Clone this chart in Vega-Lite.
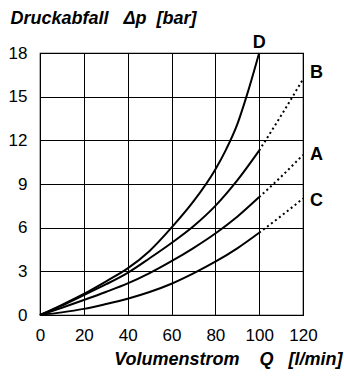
{
  "$schema": "https://vega.github.io/schema/vega-lite/v6.json",
  "autosize": "none",
  "width": 263,
  "height": 262,
  "padding": {"left": 40, "top": 53, "right": 41, "bottom": 61},
  "background": "white",
  "config": {
    "font": "Liberation Sans",
    "view": {"stroke": "black", "strokeWidth": 1.2},
    "axis": {
      "grid": true,
      "gridColor": "black",
      "gridOpacity": 1,
      "gridWidth": 1,
      "domain": false,
      "ticks": false,
      "labelFlush": false,
      "labelOverlap": false,
      "labelFont": "Liberation Sans",
      "labelFontSize": 17,
      "labelColor": "black",
      "titleFont": "Liberation Sans",
      "titleFontSize": 18,
      "titleFontWeight": "bold",
      "titleFontStyle": "italic",
      "titleColor": "black"
    }
  },
  "datasets": {
    "curves": [
      {"series": "D", "seg": "solid", "q": 0, "p": 0},
      {"series": "D", "seg": "solid", "q": 10, "p": 0.7},
      {"series": "D", "seg": "solid", "q": 20, "p": 1.45},
      {"series": "D", "seg": "solid", "q": 30, "p": 2.3},
      {"series": "D", "seg": "solid", "q": 40, "p": 3.2},
      {"series": "D", "seg": "solid", "q": 50, "p": 4.4},
      {"series": "D", "seg": "solid", "q": 60, "p": 6.0},
      {"series": "D", "seg": "solid", "q": 70, "p": 7.8},
      {"series": "D", "seg": "solid", "q": 80, "p": 10.0},
      {"series": "D", "seg": "solid", "q": 85, "p": 11.4},
      {"series": "D", "seg": "solid", "q": 90, "p": 13.1},
      {"series": "D", "seg": "solid", "q": 95, "p": 15.4},
      {"series": "D", "seg": "solid", "q": 100, "p": 18.0},
      {"series": "B", "seg": "solid", "q": 0, "p": 0},
      {"series": "B", "seg": "solid", "q": 10, "p": 0.65},
      {"series": "B", "seg": "solid", "q": 20, "p": 1.37},
      {"series": "B", "seg": "solid", "q": 30, "p": 2.1},
      {"series": "B", "seg": "solid", "q": 40, "p": 2.9},
      {"series": "B", "seg": "solid", "q": 50, "p": 3.9},
      {"series": "B", "seg": "solid", "q": 60, "p": 4.95},
      {"series": "B", "seg": "solid", "q": 70, "p": 6.1},
      {"series": "B", "seg": "solid", "q": 80, "p": 7.5},
      {"series": "B", "seg": "solid", "q": 90, "p": 9.25},
      {"series": "B", "seg": "solid", "q": 100, "p": 11.3},
      {"series": "B", "seg": "dotted", "q": 100, "p": 11.3},
      {"series": "B", "seg": "dotted", "q": 110, "p": 13.7},
      {"series": "B", "seg": "dotted", "q": 120, "p": 16.2},
      {"series": "A", "seg": "solid", "q": 0, "p": 0},
      {"series": "A", "seg": "solid", "q": 10, "p": 0.5},
      {"series": "A", "seg": "solid", "q": 20, "p": 1.03},
      {"series": "A", "seg": "solid", "q": 30, "p": 1.58},
      {"series": "A", "seg": "solid", "q": 40, "p": 2.17},
      {"series": "A", "seg": "solid", "q": 50, "p": 2.88},
      {"series": "A", "seg": "solid", "q": 60, "p": 3.7},
      {"series": "A", "seg": "solid", "q": 70, "p": 4.6},
      {"series": "A", "seg": "solid", "q": 80, "p": 5.6},
      {"series": "A", "seg": "solid", "q": 90, "p": 6.75},
      {"series": "A", "seg": "solid", "q": 100, "p": 8.1},
      {"series": "A", "seg": "dotted", "q": 100, "p": 8.1},
      {"series": "A", "seg": "dotted", "q": 110, "p": 9.5},
      {"series": "A", "seg": "dotted", "q": 120, "p": 11.0},
      {"series": "C", "seg": "solid", "q": 0, "p": 0},
      {"series": "C", "seg": "solid", "q": 10, "p": 0.18},
      {"series": "C", "seg": "solid", "q": 20, "p": 0.42},
      {"series": "C", "seg": "solid", "q": 30, "p": 0.75},
      {"series": "C", "seg": "solid", "q": 40, "p": 1.12},
      {"series": "C", "seg": "solid", "q": 50, "p": 1.58},
      {"series": "C", "seg": "solid", "q": 60, "p": 2.15},
      {"series": "C", "seg": "solid", "q": 70, "p": 2.86},
      {"series": "C", "seg": "solid", "q": 80, "p": 3.66},
      {"series": "C", "seg": "solid", "q": 90, "p": 4.58},
      {"series": "C", "seg": "solid", "q": 100, "p": 5.65},
      {"series": "C", "seg": "dotted", "q": 100, "p": 5.65},
      {"series": "C", "seg": "dotted", "q": 110, "p": 6.8},
      {"series": "C", "seg": "dotted", "q": 120, "p": 8.0}
    ],
    "labels": [
      {"label": "D", "q": 100, "p": 18.0, "pos": "top"},
      {"label": "B", "q": 120, "p": 16.6, "pos": "right"},
      {"label": "A", "q": 120, "p": 11.0, "pos": "right"},
      {"label": "C", "q": 120, "p": 7.8, "pos": "right"}
    ]
  },
  "encoding": {
    "x": {
      "field": "q",
      "type": "quantitative",
      "scale": {"domain": [0, 120], "nice": false},
      "axis": {
        "values": [0, 20, 40, 60, 80, 100, 120],
        "labelPadding": 12,
        "title": "Volumenstrom\u00a0\u00a0\u00a0\u00a0Q\u00a0\u00a0\u00a0[l/min]",
        "titleAnchor": "end",
        "titleAlign": "right",
        "titleX": 302,
        "titleY": 49,
        "titleBaseline": "alphabetic"
      }
    },
    "y": {
      "field": "p",
      "type": "quantitative",
      "scale": {"domain": [0, 18], "nice": false},
      "axis": {
        "values": [0, 3, 6, 9, 12, 15, 18],
        "labelPadding": 13,
        "title": "Druckabfall\u00a0\u00a0\u00a0Δp\u00a0\u00a0[bar]",
        "titleAngle": 0,
        "titleAlign": "left",
        "titleAnchor": "start",
        "titleX": -30,
        "titleY": -30,
        "titleBaseline": "alphabetic"
      }
    }
  },
  "layer": [
    {
      "data": {"name": "curves"},
      "transform": [{"filter": "datum.seg === 'solid'"}],
      "mark": {"type": "line", "color": "black", "strokeWidth": 2, "interpolate": "monotone"},
      "encoding": {"detail": {"field": "series"}}
    },
    {
      "data": {"name": "curves"},
      "transform": [{"filter": "datum.seg === 'dotted'"}],
      "mark": {"type": "line", "color": "black", "strokeWidth": 2, "strokeDash": [2, 3], "interpolate": "monotone"},
      "encoding": {"detail": {"field": "series"}}
    },
    {
      "data": {"name": "labels"},
      "transform": [{"filter": "datum.pos === 'top'"}],
      "mark": {"type": "text", "fontSize": 18, "fontWeight": "bold", "font": "Liberation Sans", "color": "black", "align": "center", "baseline": "alphabetic", "dy": -5},
      "encoding": {"text": {"field": "label"}}
    },
    {
      "data": {"name": "labels"},
      "transform": [{"filter": "datum.pos === 'right'"}],
      "mark": {"type": "text", "fontSize": 18, "fontWeight": "bold", "font": "Liberation Sans", "color": "black", "align": "left", "baseline": "middle", "dx": 7},
      "encoding": {"text": {"field": "label"}}
    }
  ]
}
